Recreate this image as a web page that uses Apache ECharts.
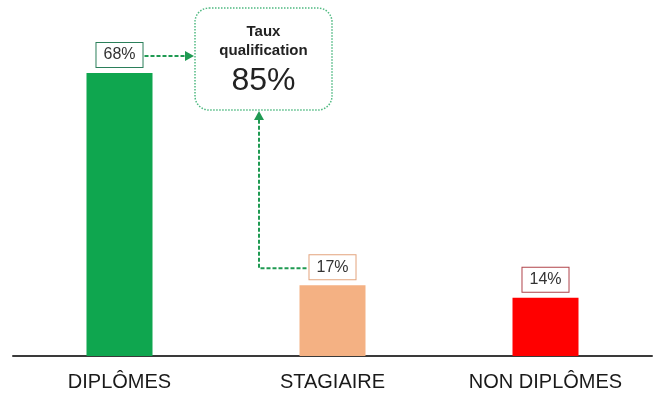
<!DOCTYPE html>
<html>
<head>
<meta charset="utf-8">
<script src="https://cdn.jsdelivr.net/npm/echarts@6/dist/echarts.min.js"></script>
<style>
  html, body { margin: 0; padding: 0; background: #fff; }
  #chart { width: 654px; height: 394px; }
</style>
</head>
<body>
<div id="chart"></div>
<script>
// Share of each population (in %)
const categories = ['DIPLÔMES', 'STAGIAIRE', 'NON DIPLÔMES'];
const values = [68, 17, 14];
const barColors = ['#0fa64f', '#f4b183', '#ff0000'];
const labelBorders = ['#2b7f5a', '#e3a47d', '#b0434a'];

// Qualification rate callout
const calloutTitle = ['Taux', 'qualification'];
const calloutValue = 85;

const FONT = '"Liberation Sans", Arial, sans-serif';
const ARROW = '#1f9a52';

const chart = echarts.init(document.getElementById('chart'), null, { renderer: 'canvas' });

const LABEL_DIST = 6;
const LABEL_FS = 16;
const LABEL_PAD = [3, 7];

chart.setOption({
  animation: false,
  backgroundColor: '#ffffff',
  grid: { left: 13, right: 2, top: 23, bottom: 38 },
  xAxis: {
    type: 'category',
    data: categories,
    axisLine: { lineStyle: { color: '#3a3a3a', width: 2 } },
    axisTick: { show: false },
    axisLabel: { color: '#1a1a1a', fontFamily: FONT, fontSize: 20, margin: 16 }
  },
  yAxis: {
    type: 'value', min: 0, max: 80,
    show: false, splitLine: { show: false }
  },
  series: [{
    type: 'bar',
    barWidth: 66,
    data: values.map((v, i) => ({
      value: v,
      itemStyle: { color: barColors[i] },
      label: { borderColor: labelBorders[i] }
    })),
    label: {
      show: true,
      position: 'top',
      distance: LABEL_DIST,
      formatter: '{c}%',
      color: '#333',
      fontFamily: FONT,
      fontSize: LABEL_FS,
      backgroundColor: '#fff',
      borderWidth: 1,
      padding: LABEL_PAD,
      lineHeight: 18
    }
  }]
});

// Connector arrows: anchored on the bar positions computed by the axes
const top0 = chart.convertToPixel({ seriesIndex: 0 }, [0, values[0]]);
const top1 = chart.convertToPixel({ seriesIndex: 0 }, [1, values[1]]);
const boxH = 18 + LABEL_PAD[0] * 2;
const labelHalfW = 25;

const box = { x: 195, y: 8, w: 137, h: 102 };

const a1y = top0[1] - LABEL_DIST - boxH / 2 + 1;
const a1x0 = top0[0] + labelHalfW;
const a1x1 = box.x - 1;

const a2y = top1[1] - LABEL_DIST - boxH / 2 + 1;
const a2x0 = top1[0] - labelHalfW - 1;
const a2x = box.x + 64;
const a2y1 = box.y + box.h + 1;

const dash = { stroke: ARROW, lineWidth: 2, lineDash: [4, 2] };

chart.setOption({
  graphic: [
    {
      type: 'rect',
      shape: { x: box.x, y: box.y, width: box.w, height: box.h, r: 14 },
      style: { fill: '#fff', stroke: '#4fb981', lineWidth: 1.5, lineDash: [1.5, 1.5] }
    },
    {
      type: 'text',
      style: {
        x: box.x + box.w / 2, y: box.y + 14,
        text: calloutTitle.join('\n'),
        fill: '#222', font: 'bold 15px ' + FONT, lineHeight: 19,
        align: 'center', verticalAlign: 'top'
      }
    },
    {
      type: 'text',
      style: {
        x: box.x + box.w / 2, y: box.y + 57,
        text: calloutValue + '%',
        fill: '#222', font: '32px ' + FONT,
        align: 'center', verticalAlign: 'top'
      }
    },
    {
      type: 'polyline',
      shape: { points: [[a1x0, a1y], [a1x1 - 8, a1y]] },
      style: dash
    },
    {
      type: 'polygon',
      shape: { points: [[a1x1, a1y], [a1x1 - 9, a1y - 5], [a1x1 - 9, a1y + 5]] },
      style: { fill: ARROW }
    },
    {
      type: 'polyline',
      shape: { points: [[a2x0, a2y], [a2x, a2y], [a2x, a2y1 + 8]] },
      style: dash
    },
    {
      type: 'polygon',
      shape: { points: [[a2x, a2y1], [a2x - 5, a2y1 + 9], [a2x + 5, a2y1 + 9]] },
      style: { fill: ARROW }
    }
  ]
});
</script>
</body>
</html>
